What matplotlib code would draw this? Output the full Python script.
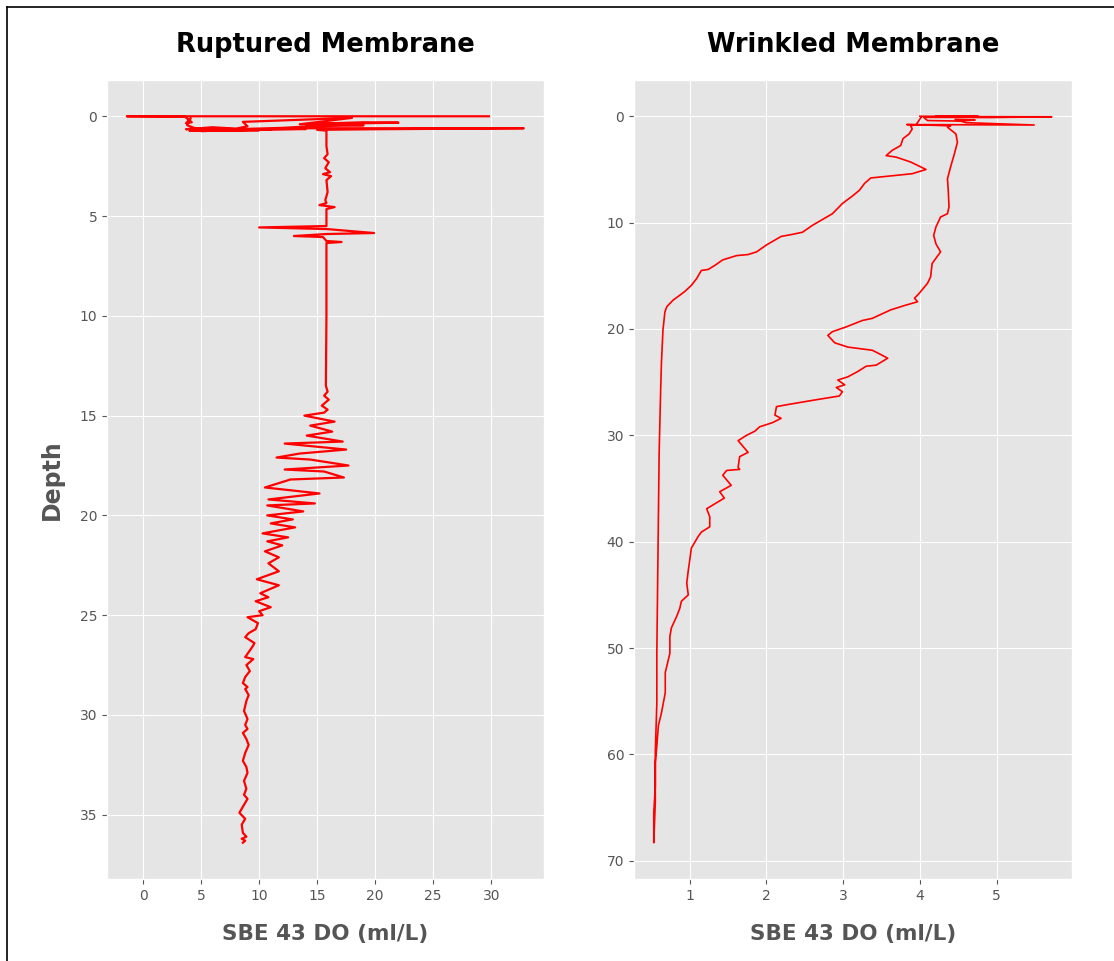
import matplotlib
matplotlib.use("Agg")
import matplotlib.pyplot as plt
from matplotlib.lines import Line2D

# ruptured membrane cast: DO (ml/L) and depth
rupt_do = [29.8, -1.4, 3.6, 4.2, 3.7, 4.1, 3.8, 4.5, 3.7, 6.0, 8.0, 9.0, 8.6, 18.0,
           13.5, 19.0, 22.0, 14.0, 19.0, 14.5, 12.0, 6.0, 4.0, 10.0, 4.5, 11.0,
           5.0, 14.0, 12.5, 16.0,
           32.8, 20.0, 15.0, 15.8,
           15.8, 15.9, 15.6, 16.0, 15.7, 16.1, 15.5, 16.2, 15.8, 15.9, 15.7, 15.8,
           15.2, 16.5, 15.8, 15.8, 10.0, 15.8, 19.9, 15.8, 13.0, 15.5, 15.8, 17.1,
           15.8, 15.8, 15.75, 15.9, 15.6, 16.0, 15.4, 15.9, 15.6,
           13.9, 16.5, 14.4, 16.3, 14.1, 17.2, 12.2, 17.5, 13.5, 11.5, 14.4, 17.7,
           12.2, 15.6, 17.3, 12.7, 10.5, 15.2, 10.8, 14.8, 10.7, 13.8, 10.7, 12.9,
           11.0, 13.1, 10.3, 12.5, 10.7, 12.0, 10.5, 11.7, 10.8, 11.7, 9.8, 11.7,
           10.1, 10.8, 9.7, 11.0, 10.0, 10.3, 9.0, 9.9, 9.7, 9.1, 8.8, 9.6, 9.4,
           8.8, 9.5, 8.9, 9.2, 8.8, 8.6, 9.0, 8.8, 9.1, 8.9, 8.7, 9.0, 8.8, 9.0,
           8.6, 8.9, 9.1, 8.8, 8.6, 8.9, 9.0, 8.7, 8.9, 8.7, 9.0, 8.3, 8.8, 8.5,
           8.6, 8.9, 8.5, 8.8, 8.6]
rupt_depth = [0.0, 0.0, 0.02, 0.3, 0.35, 0.1, 0.45, 0.6, 0.65, 0.55, 0.62, 0.5, 0.28, 0.08,
              0.4, 0.3, 0.32, 0.4, 0.45, 0.5, 0.58, 0.68, 0.72, 0.7, 0.62, 0.66,
              0.74, 0.64, 0.6, 0.6,
              0.6, 0.65, 0.68, 0.72,
              1.5, 1.9, 2.1, 2.3, 2.6, 2.8, 2.9, 3.0, 3.2, 3.8, 4.2, 4.35,
              4.45, 4.55, 4.65, 5.5, 5.57, 5.65, 5.85, 5.9, 6.0, 6.05, 6.25, 6.3,
              6.35, 10.0, 13.5, 13.8, 14.0, 14.2, 14.5, 14.7, 14.85,
              15.0, 15.3, 15.5, 15.8, 16.0, 16.3, 16.4, 16.7, 16.9, 17.1, 17.2, 17.5,
              17.7, 17.8, 18.1, 18.2, 18.6, 18.9, 19.2, 19.4, 19.5, 19.8, 20.0, 20.2,
              20.4, 20.6, 20.9, 21.1, 21.3, 21.5, 21.8, 22.1, 22.4, 22.8, 23.2, 23.5,
              23.9, 24.1, 24.3, 24.6, 24.8, 25.0, 25.1, 25.4, 25.7, 25.9, 26.1, 26.4, 26.6,
              27.1, 27.2, 27.5, 27.8, 28.1, 28.4, 28.6, 28.7, 29.0, 29.3, 29.8, 30.2, 30.5, 30.7,
              30.9, 31.2, 31.5, 31.9, 32.3, 32.6, 32.9, 33.3, 33.7, 34.0, 34.2, 34.9, 35.2, 35.5,
              35.9, 36.1, 36.2, 36.3, 36.4]

# wrinkled membrane cast: surface mess, downcast, then upcast
wrink_do = [4.0, 4.76, 4.2, 5.72, 4.9, 4.05, 4.1, 4.5, 4.72, 4.46, 4.6, 5.0, 5.49,
            4.6, 3.83, 4.2, 4.4, 4.36,
            4.47, 4.49, 4.45, 4.40, 4.36, 4.37, 4.38, 4.36, 4.27, 4.21, 4.18, 4.21,
            4.27, 4.16, 4.14, 4.10, 3.99, 3.93, 3.97, 3.82, 3.62, 3.38, 3.25, 3.04,
            2.86, 2.80, 2.89, 3.06, 3.38, 3.49, 3.58, 3.43, 3.30, 3.19, 3.06, 2.93,
            3.02, 2.91, 2.99, 2.95, 2.65, 2.28, 2.13, 2.11, 2.19, 2.08, 1.91, 1.85,
            1.74, 1.63, 1.76, 1.65, 1.63, 1.65, 1.48, 1.43, 1.54, 1.39, 1.45, 1.37,
            1.22, 1.26, 1.26, 1.15, 1.11, 1.02, 1.0, 0.98, 0.96, 0.98, 0.89, 0.87,
            0.83, 0.76, 0.74, 0.74, 0.68, 0.68, 0.63, 0.59, 0.57, 0.55, 0.55, 0.53,
            0.53,
            0.55, 0.55, 0.57, 0.57, 0.58, 0.59, 0.60, 0.61, 0.62, 0.63, 0.65, 0.675,
            0.70, 0.78, 0.93, 1.02, 1.09, 1.15, 1.24, 1.33, 1.43, 1.61, 1.76, 1.87,
            2.0, 2.19, 2.34, 2.47, 2.60, 2.86, 2.99, 3.12, 3.21, 3.28, 3.36, 3.56,
            3.90, 4.08, 3.88, 3.69, 3.56, 3.64, 3.75, 3.78, 3.86, 3.90, 3.88, 3.95,
            4.02]
wrink_depth = [0.0, 0.0, 0.03, 0.05, 0.12, 0.1, 0.4, 0.45, 0.35, 0.3, 0.6, 0.7, 0.82,
               0.8, 0.78, 0.85, 0.9, 1.03,
               1.66, 2.44, 3.53, 4.78, 5.88, 6.97, 8.53, 9.16, 9.47, 10.4, 11.2, 12.0,
               12.75, 13.84, 15.1, 15.7, 16.66, 17.1, 17.44, 17.75, 18.2, 19.0, 19.2, 19.8,
               20.25, 20.6, 21.3, 21.7, 22.0, 22.4, 22.75, 23.4, 23.5, 24.0, 24.5, 24.8,
               25.25, 25.5, 25.9, 26.3, 26.65, 27.1, 27.3, 28.1, 28.4, 28.8, 29.2, 29.6,
               30.0, 30.5, 31.6, 32.0, 33.0, 33.2, 33.3, 33.75, 34.7, 35.3, 35.9, 36.25,
               36.9, 37.65, 38.6, 39.1, 39.5, 40.6, 41.7, 42.7, 43.9, 45.0, 45.6, 46.25,
               47.0, 48.1, 48.9, 50.5, 52.3, 54.2, 56.1, 57.3, 59.2, 60.8, 63.0, 65.5,
               68.3,
               64.5, 59.8, 55.2, 50.5, 44.2, 38.0, 31.7, 28.6, 25.7, 23.2, 20.1, 18.4,
               17.9, 17.3, 16.5, 15.9, 15.25, 14.5, 14.4, 14.0, 13.5, 13.1, 13.0, 12.75,
               12.1, 11.3, 11.1, 10.9, 10.25, 9.16, 8.2, 7.5, 6.97, 6.3, 5.8, 5.65,
               5.4, 5.0, 4.3, 3.84, 3.7, 3.2, 2.75, 2.1, 1.66, 1.2, 0.9, 0.8,
               0.05]

plt.style.use("ggplot")

fig = plt.figure(figsize=(11.14, 9.61), dpi=100)
ax1 = fig.add_axes([0.096, 0.0853, 0.392, 0.8315])
ax2 = fig.add_axes([0.569, 0.0853, 0.393, 0.8315])

ax1.plot(rupt_do, rupt_depth, color="red", lw=1.6)
ax2.plot(wrink_do, wrink_depth, color="red", lw=1.2)

for ax, title in [(ax1, "Ruptured Membrane"), (ax2, "Wrinkled Membrane")]:
    ax.invert_yaxis()
    ax.set_title(title, fontsize=18.5, fontweight="bold", color="black", pad=20)
    ax.set_xlabel("SBE 43 DO (ml/L)", fontsize=15.5, fontweight="bold", color="#555555", labelpad=15)
    ax.tick_params(labelsize=10, colors="#555555")

ax1.set_ylabel("Depth", fontsize=17, fontweight="bold", color="#555555", labelpad=11)

# frame lines at the top-left of the screenshot
fig.add_artist(Line2D([7 / 1114, 7 / 1114], [0, 1 - 7 / 961], color="black", lw=1.2))
fig.add_artist(Line2D([7 / 1114, 1], [1 - 7 / 961, 1 - 7 / 961], color="black", lw=1.2))

plt.savefig("out.png", dpi=100)
